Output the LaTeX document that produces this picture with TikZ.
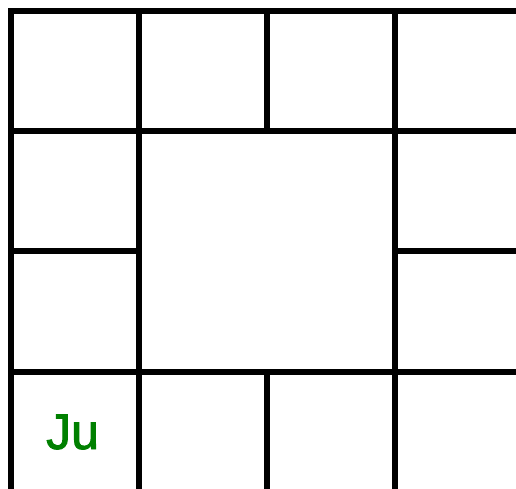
\documentclass[tikz,border=0pt]{standalone}
\usepackage{fontspec}
\setmainfont{Liberation Sans}
\newfontfamily\jufont[FakeBold=1.8]{Liberation Sans}
\definecolor{jugreen}{RGB}{0,128,0}
\begin{document}
\begin{tikzpicture}[x=1pt,y=-1pt,
  wall/.style={line width=5.3pt,black,line cap=rect},
  lbl/.style={text=jugreen,font=\jufont\fontsize{50}{50}\selectfont,inner sep=0pt,anchor=base west}]
\useasboundingbox (0,0) rectangle (516,488);
\fill[white] (0,0) rectangle (516,488);
% horizontal walls
\draw[wall] (11,11) -- (520,11);
\draw[wall] (11,131) -- (520,131);
\draw[wall] (11,251) -- (139,251);
\draw[wall] (395,251) -- (520,251);
\draw[wall] (11,372) -- (520,372);
% vertical walls
\draw[wall] (11,11) -- (11,492);
\draw[wall] (139,11) -- (139,492);
\draw[wall] (267,11) -- (267,131);
\draw[wall] (267,372) -- (267,492);
\draw[wall] (395,11) -- (395,492);
\node[lbl] (ju) at (46,449) {Ju};
\end{tikzpicture}
\end{document}
